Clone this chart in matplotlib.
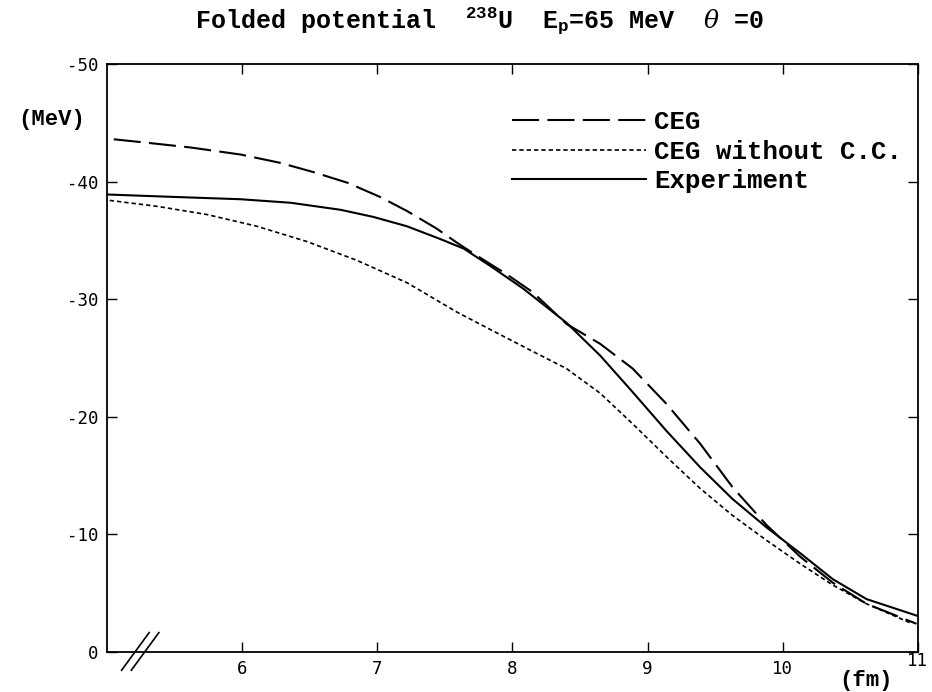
import numpy as np
import matplotlib
matplotlib.use("Agg")
import matplotlib.pyplot as plt

plt.rcParams['mathtext.fontset'] = 'custom'
plt.rcParams['mathtext.rm'] = 'Liberation Mono:bold'
plt.rcParams['mathtext.it'] = 'DejaVu Serif:italic'

# radius (fm) and potential depth (MeV)
r_ceg = [5.05, 5.30, 5.62, 5.99, 6.28, 6.53, 6.78, 7.02, 7.22, 7.44, 7.59, 7.71, 7.96,
         8.15, 8.40, 8.65, 8.89, 9.14, 9.39, 9.63, 9.88, 10.13, 10.37, 10.62, 10.99]
v_ceg = [-43.6, -43.3, -42.9, -42.3, -41.6, -40.8, -39.9, -38.7, -37.5, -36.0, -34.8, -33.9, -32.1,
         -30.6, -27.9, -26.2, -24.1, -21.1, -17.7, -14.0, -10.8, -8.1, -5.9, -4.1, -2.4]

r_nocc = [5.02, 5.37, 5.74, 6.11, 6.48, 6.85, 7.22, 7.59, 7.84, 8.11, 8.40, 8.65, 8.89,
          9.14, 9.39, 9.63, 9.88, 10.13, 10.37, 10.62, 10.96]
v_nocc = [-38.4, -37.9, -37.2, -36.2, -34.9, -33.3, -31.4, -28.9, -27.4, -25.8, -24.1, -22.0, -19.4,
          -16.6, -13.9, -11.6, -9.5, -7.5, -5.7, -4.1, -2.4]

r_exp = [5.01, 5.49, 5.99, 6.36, 6.73, 6.97, 7.22, 7.47, 7.64, 7.84, 8.08, 8.40, 8.65,
         8.89, 9.14, 9.39, 9.63, 9.88, 10.13, 10.37, 10.62, 10.99]
v_exp = [-38.9, -38.7, -38.5, -38.2, -37.6, -37.0, -36.2, -35.1, -34.3, -32.8, -30.9, -28.0, -25.2,
         -22.1, -18.8, -15.7, -13.0, -10.6, -8.4, -6.2, -4.5, -3.1]

labels = ['CEG', 'CEG without C.C.', 'Experiment']
xticks = [6, 7, 8, 9, 10, 11]
yticks = [0, -10, -20, -30, -40, -50]

mono = {'family': 'Liberation Mono', 'weight': 'bold'}

fig = plt.figure(figsize=(9.32, 6.92), dpi=100)
ax = fig.add_axes([0.1148, 0.0578, 0.870, 0.8497])

ax.plot(r_ceg, v_ceg, color='black', lw=1.5, dashes=(13, 4), label=labels[0])
ax.plot(r_nocc, v_nocc, color='black', lw=1.2, dashes=(2.6, 1.8), label=labels[1])
ax.plot(r_exp, v_exp, color='black', lw=1.5, label=labels[2])

ax.set_xlim(5, 11)
ax.set_ylim(0, -50)
ax.set_xticks(xticks)
ax.set_yticks(yticks)
ax.set_xticklabels([str(t) for t in xticks], family='DejaVu Sans Mono', fontsize=12.5)
ax.set_yticklabels([str(t) for t in yticks], family='DejaVu Sans Mono', fontsize=12.5)
ax.tick_params(direction='in', length=7, width=1, top=True, right=True, pad=6)
# the "11" label sits a little higher than the others
ax.get_xticklabels()[-1].set_y(0.014)
for s in ax.spines.values():
    s.set_linewidth(1.3)

ax.text(-0.068, 0.905, '(MeV)', transform=ax.transAxes, fontsize=16,
        fontdict=mono, ha='center', va='center')
ax.text(0.936, -0.049, '(fm)', transform=ax.transAxes, fontsize=16,
        fontdict=mono, ha='center', va='center')

# axis break mark
for x0 in (0.018, 0.030):
    ax.plot([x0, x0 + 0.034], [-0.031, 0.033], color='black', lw=1.2,
            transform=ax.transAxes, clip_on=False)

fig.text(0.515, 0.959, r'Folded potential  $^{238}$U  E$_{\rm p}$=65 MeV  $\theta$ =0',
         ha='center', va='baseline', fontsize=18, fontdict=mono)

ax.legend(loc='upper left', bbox_to_anchor=(0.499, 0.921), frameon=False,
          prop={'family': 'Liberation Mono', 'weight': 'bold', 'size': 18.5},
          handlelength=5.25, handletextpad=0.31, labelspacing=0.2,
          borderpad=0, borderaxespad=0)

fig.savefig('out.png', dpi=100)
